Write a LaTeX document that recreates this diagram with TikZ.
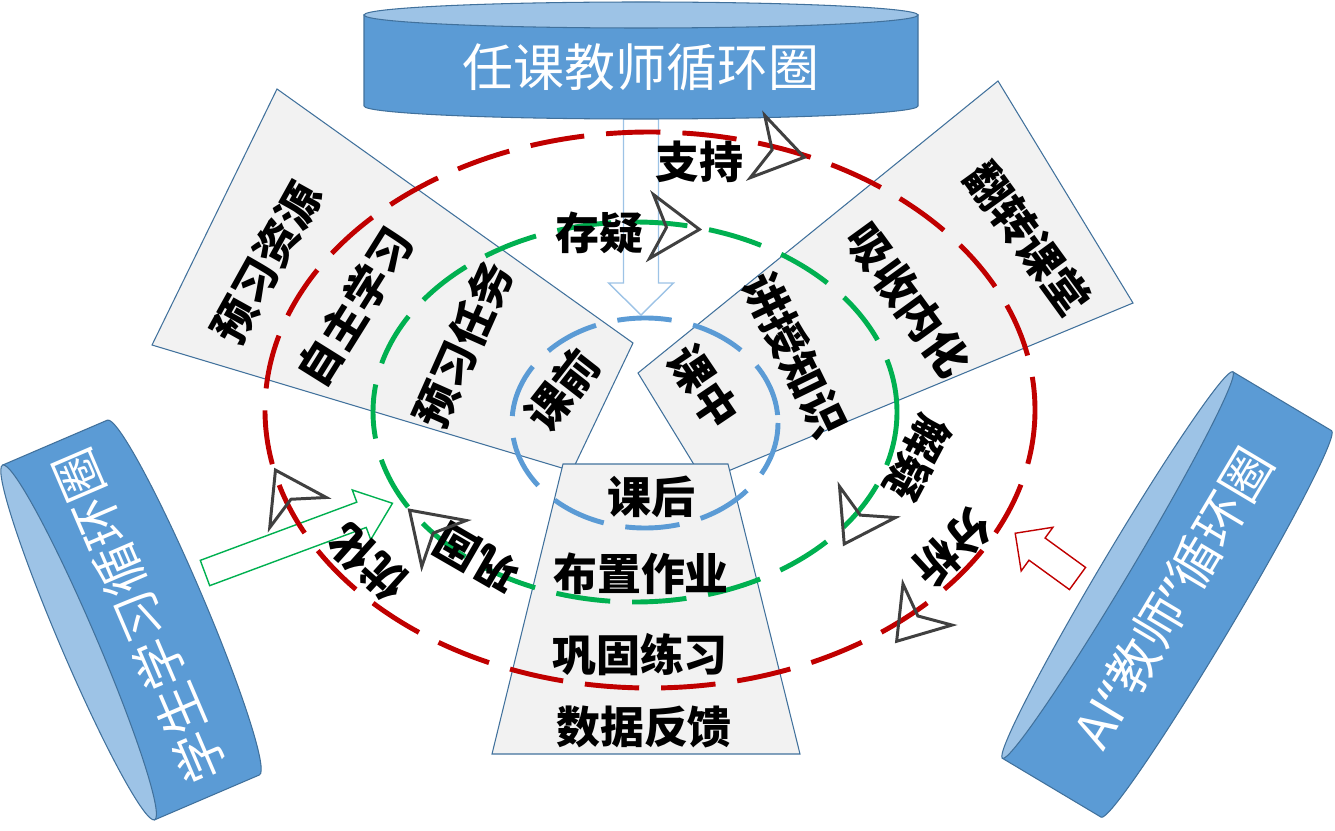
\documentclass[tikz,border=0pt]{standalone}
\usepackage{fontspec}
\usepackage{xcolor}
\newfontfamily\cjk{Noto Sans CJK SC}
\newfontfamily\latin{Noto Sans}
\definecolor{canblue}{HTML}{5B9BD5}
\definecolor{canlight}{HTML}{9DC3E6}
\definecolor{canline}{HTML}{41719C}
\definecolor{panelgray}{HTML}{F2F2F2}
\definecolor{ringred}{HTML}{C00000}
\definecolor{ringgreen}{HTML}{00B050}
\definecolor{ringblue}{HTML}{5B9BD5}
\definecolor{headgray}{HTML}{404040}
\definecolor{arrowblue}{HTML}{9DC3E6}

% can: name, centre, angle, half width, half height, ry, text
\newcommand{\drawcan}[7]{%
  \begin{scope}[shift={#2}, rotate=#3]
    \path[canside] (-#4,-#5) -- (-#4,#5) arc[start angle=180, end angle=0, x radius=#4, y radius=#6] -- (#4,-#5) -- cycle;
    \path[cantop] (0,-#5) ellipse[x radius=#4, y radius=#6];
    \node[cantext] (#1) at (0,#6*0.5) {#7};
  \end{scope}}
% hollow block arrow: style, tail, angle, length, shaft, head, head length
\newcommand{\blockarrow}[7]{%
  \draw[#1, shift={#2}, rotate=#3] (0,-#5) -- (#4-#7,-#5) -- (#4-#7,-#6) -- (#4,0) -- (#4-#7,#6) -- (#4-#7,#5) -- (0,#5) -- cycle;}
% open arrow head on the rings
\newcommand{\openhead}[2]{%
  \draw[head, shift={#1}, rotate=#2] (48,0) -- (0,32) -- (15,0) -- (0,-32) -- cycle;}

\begin{document}
\begin{tikzpicture}[x=0.02cm, y=-0.02cm,
    canside/.style={fill=canblue, draw=canline, line width=0.6pt},
    cantop/.style={fill=canlight, draw=canline, line width=0.6pt},
    cantext/.style={text=white, font=\cjk\fontsize{29}{31}\selectfont, inner sep=0pt, transform shape},
    panel/.style={fill=panelgray, draw=canline, line width=0.6pt},
    ring/.style={line width=2.8pt, dash pattern=on 31pt off 12.5pt},
    tag/.style={font=\cjk\bfseries\fontsize{25}{28}\selectfont, inner sep=0pt},
    head/.style={draw=headgray, line width=1.7pt, line join=miter},
    hollow/.style={fill=white, line width=0.8pt}]
    \useasboundingbox (0,0) rectangle (1335,831);

    \blockarrow{hollow, draw=arrowblue}{(641,100)}{-90}{215}{17.5}{32.5}{32}
    \drawcan{topcan}{(641,60.5)}{0}{277}{45.5}{13}{任课教师循环圈}
    \drawcan{leftcan}{(131,620)}{113.2}{193}{57}{18}{学生学习循环圈}
    \drawcan{rightcan}{(1167,594.5)}{59.2}{225}{57.5}{14}{AI{\latin“}教师{\latin”}循环圈}
    \blockarrow{hollow, draw=ringgreen}{(205,573)}{20.4}{200}{13.5}{26.5}{33}
    \blockarrow{hollow, draw=ringred}{(1077.5,578.5)}{144}{77}{13.7}{27}{27}

    \path[panel] (277,89) -- (633,343) -- (572,471) -- (152,345) -- cycle;
    \path[panel] (998,81) -- (1133,303) -- (704,481) -- (638,373) -- cycle;
    \path[panel] (563,464) -- (728,464) -- (800,754) -- (492,754) -- cycle;

    \draw[ring, ringred] (650,410) ellipse[x radius=385, y radius=278];
    \draw[ring, ringgreen] (635,412) ellipse[x radius=262, y radius=190];
    \draw[ring, ringblue] (645,423) ellipse[x radius=133, y radius=105];

    \node[tag, rotate=61] (yxzy) at (266.5,262.5) {预习资源};
    \node[tag, rotate=58] (zzxx) at (355,307) {自主学习};
    \node[tag, rotate=66] (yxrw) at (463.5,345) {预习任务};
    \node[tag, rotate=52] (kq) at (562,390) {课前};
    \node[tag, rotate=-54] (fzkt) at (1028,238.5) {翻转课堂};
    \node[tag, rotate=-54] (xsnh) at (908.5,300) {吸收内化};
    \node[tag, rotate=-64] (jszs) at (795,355) {讲授知识};
    \node[tag, rotate=-56] (kz) at (703.5,387) {课中};
    \node[tag] (kh) at (651,497) {课后};
    \node[tag] (bzzy) at (641,574) {布置作业};
    \node[tag] (gglx) at (640,655) {巩固练习};
    \node[tag] (sjfk) at (644,727) {数据反馈};

    \node[tag] (zhichi) at (699,162) {支持};
    \node[tag] (cunyi) at (599,233) {存疑};
    \node[tag, rotate=-118] (jieyi) at (918,458) {解疑};
    \node[tag, rotate=-137] (fenxi) at (953,548) {分析};
    \node[tag, rotate=138] (youhua) at (368,563) {优化};
    \node[tag, rotate=150] (gonggu) at (477,558) {巩固};

    \openhead{(757.5,146.5)}{-13}
    \openhead{(651.5,226.5)}{-3.5}
    \openhead{(298,512.5)}{118}
    \openhead{(444,543.5)}{136}
    \openhead{(867.5,502)}{-119}
    \openhead{(927.5,604.5)}{-130}
\end{tikzpicture}
\end{document}
